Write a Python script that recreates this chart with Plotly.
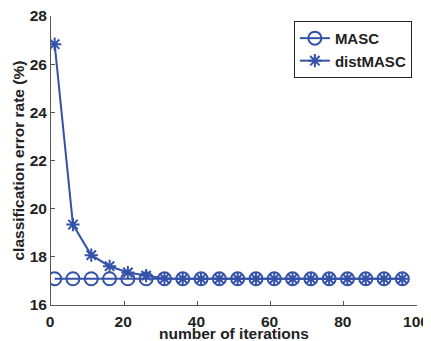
import plotly.graph_objects as go

iterations = [1, 6, 11, 16, 21, 26, 31, 36, 41, 46, 51, 56, 61, 66, 71, 76, 81, 86, 91, 96]
masc = [17.09] * 20
dist_masc = [26.83, 19.34, 18.07, 17.61, 17.35, 17.22, 17.1, 17.09, 17.09, 17.09,
             17.09, 17.09, 17.09, 17.09, 17.09, 17.09, 17.09, 17.09, 17.09, 17.09]

x_ticks = [0, 20, 40, 60, 80, 100]
y_ticks = [16, 18, 20, 22, 24, 26, 28]

blue = "rgb(52,82,168)"
font_family = "Liberation Sans, Arial, sans-serif"
txt = "#222222"
tick_font = dict(family=font_family, size=15.5, color=txt, weight=700)
title_font = dict(family=font_family, size=15.5, color=txt, weight=700)
legend_font = dict(family=font_family, size=15, color=txt, weight=700)

fig = go.Figure()
fig.add_trace(go.Scatter(
    x=iterations, y=masc, name="MASC", mode="lines+markers",
    line=dict(color=blue, width=2),
    marker=dict(symbol="circle-open", size=13, color=blue, line=dict(width=2, color=blue)),
))
fig.add_trace(go.Scatter(
    x=iterations, y=dist_masc, name="distMASC", mode="lines+markers",
    line=dict(color=blue, width=2),
    marker=dict(symbol="asterisk-open", size=11, color=blue, line=dict(width=2, color=blue)),
))

axis_common = dict(
    showgrid=False, zeroline=False, showline=True, linecolor="#555555", linewidth=1,
    ticks="inside", ticklen=4, tickcolor="#555555", automargin=False,
    tickfont=tick_font, ticklabeloverflow="allow",
)
fig.update_xaxes(range=[0, 100], tickvals=x_ticks, ticklabelstandoff=2,
                 ticklabelshift=-1, **axis_common)
fig.update_yaxes(range=[16, 28], tickvals=y_ticks, **axis_common)

fig.add_annotation(text="number of iterations", xref="paper", yref="paper",
                   x=0.5, y=0, xanchor="center", yanchor="middle", yshift=-28,
                   showarrow=False, font=title_font)
fig.add_annotation(text="classification error rate (%)", xref="paper", yref="paper",
                   x=0, y=0.5, xanchor="center", yanchor="middle", xshift=-33,
                   textangle=-90, showarrow=False, font=title_font)

fig.update_layout(
    width=423, height=333,
    margin=dict(l=43, r=14, t=8, b=36),
    plot_bgcolor="white", paper_bgcolor="white",
    legend=dict(x=0.986, y=0.983, xanchor="right", yanchor="top",
                bordercolor="#222222", borderwidth=1, bgcolor="white",
                font=legend_font, tracegroupgap=0, itemwidth=30),
    showlegend=True,
)

fig.write_html("out.html")
